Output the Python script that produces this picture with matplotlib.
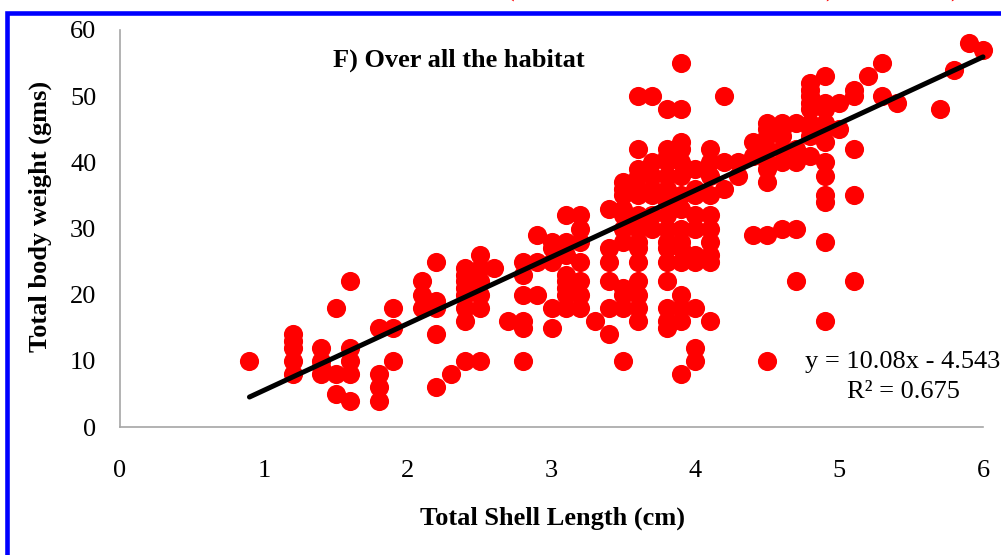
import numpy as np
import matplotlib.pyplot as plt
from matplotlib.patches import Rectangle

# shell length (cm) -> body weights (gms)
columns = {
    0.9: [10],
    1.2: [8, 10, 12, 13, 14],
    1.4: [8, 9, 10, 12],
    1.5: [5, 8, 18],
    1.6: [4, 8, 10, 12, 22],
    1.8: [4, 6, 8, 15],
    1.9: [10, 15, 18],
    2.1: [18, 20, 22],
    2.2: [6, 14, 18, 19, 25],
    2.3: [8],
    2.4: [10, 16, 18, 20, 21, 22, 23, 24],
    2.5: [10, 18, 20, 22, 24, 26],
    2.6: [24],
    2.7: [16],
    2.8: [10, 15, 16, 20, 23, 25],
    2.9: [20, 25, 29],
    3.0: [15, 18, 25, 27, 28],
    3.1: [18, 20, 21, 22, 23, 26, 28, 32],
    3.2: [18, 20, 22, 25, 28, 30, 32],
    3.3: [16],
    3.4: [14, 18, 22, 25, 27, 33],
    3.5: [10, 18, 20, 21, 28, 30, 32, 33, 35, 36, 37],
    3.6: [16, 18, 20, 22, 25, 27, 28, 30, 31, 32, 35, 36, 38, 39, 42, 50],
    3.7: [30, 32, 35, 36, 38, 40, 50],
    3.8: [15, 16, 18, 22, 25, 27, 28, 30, 32, 34, 36, 38, 40, 41, 42, 48],
    3.9: [8, 16, 18, 20, 25, 27, 28, 30, 33, 35, 38, 40, 42, 43, 48, 55],
    4.0: [10, 12, 18, 25, 26, 30, 32, 35, 36, 39],
    4.1: [16, 25, 26, 28, 30, 32, 35, 38, 40, 42],
    4.2: [36, 40, 50],
    4.3: [38, 40],
    4.4: [29, 41, 43],
    4.5: [10, 29, 37, 39, 40, 42, 44, 45, 46],
    4.6: [30, 40, 42, 44, 45, 46],
    4.7: [22, 30, 40, 42, 46],
    4.8: [41, 44, 45, 46, 48, 49, 50, 51, 52],
    4.9: [16, 28, 34, 35, 38, 40, 43, 45, 46, 48, 49, 53],
    5.0: [45, 49],
    5.1: [22, 35, 42, 50, 51],
    5.2: [53],
    5.3: [50, 55],
    5.4: [49],
    5.7: [48],
    5.8: [54],
    5.9: [58],
    6.0: [57],
}
shell_len = [x for x, ws in columns.items() for w in ws]
body_wt = [w for x, ws in columns.items() for w in ws]

slope, intercept = 10.08, -4.543
trend_x = [0.9, 6.0]

plt.rcParams['font.family'] = ['Liberation Serif', 'DejaVu Serif']

fig = plt.figure(figsize=(10.01, 5.55), dpi=100)
ax = fig.add_axes([120/1001, 1-427/555, 863/1001, 397/555])

ax.scatter(shell_len, body_wt, s=190, color='#ff0000', linewidths=0,
           zorder=2, clip_on=False)
tx = np.array(trend_x)
ax.plot(tx, slope*tx + intercept, color='black', lw=3.6,
        solid_capstyle='round', zorder=3, clip_on=False)

ax.set_xlim(0, 6)
ax.set_ylim(0, 60)
ax.set_xticks(range(0, 7))
ax.set_yticks(range(0, 61, 10))
ax.tick_params(axis='both', length=0, labelsize=19)
ax.tick_params(axis='x', pad=24)
ax.tick_params(axis='y', pad=17)
for s in ['top', 'right']:
    ax.spines[s].set_visible(False)
for s in ['left', 'bottom']:
    ax.spines[s].set_color('#a6a6a6')
    ax.spines[s].set_linewidth(1.2)

fig.text(552/1001, 1-518/555, 'Total Shell Length (cm)', fontsize=19,
         fontweight='bold', ha='center', va='center')
fig.text(40/1001, 1-216/555, 'Total body weight (gms)', fontsize=19,
         fontweight='bold', ha='center', va='center', rotation=90)
fig.text(459/1001, 1-60/555, 'F) Over all the habitat', fontsize=19,
         fontweight='bold', ha='center', va='center')
fig.text(903/1001, 1-362/555, 'y = 10.08x - 4.543', fontsize=19, ha='center', va='center')
fig.text(903/1001, 1-392/555, 'R² = 0.675', fontsize=19, ha='center', va='center')

# red caption above the frame, cut off by the top edge as in the source
for px, ch in [(510, '('), (830, ')'), (955, ')')]:
    fig.text(px/1001, 1+3/555, ch, fontsize=19, color='#ff0000',
             ha='center', va='baseline')

fig.patches.append(Rectangle((6.5/1001, -0.2), 1.5, 1.2-13/555,
                             transform=fig.transFigure, fill=False,
                             edgecolor='#0000ff', lw=3.3, clip_on=False))

fig.savefig('out.png', dpi=100)
